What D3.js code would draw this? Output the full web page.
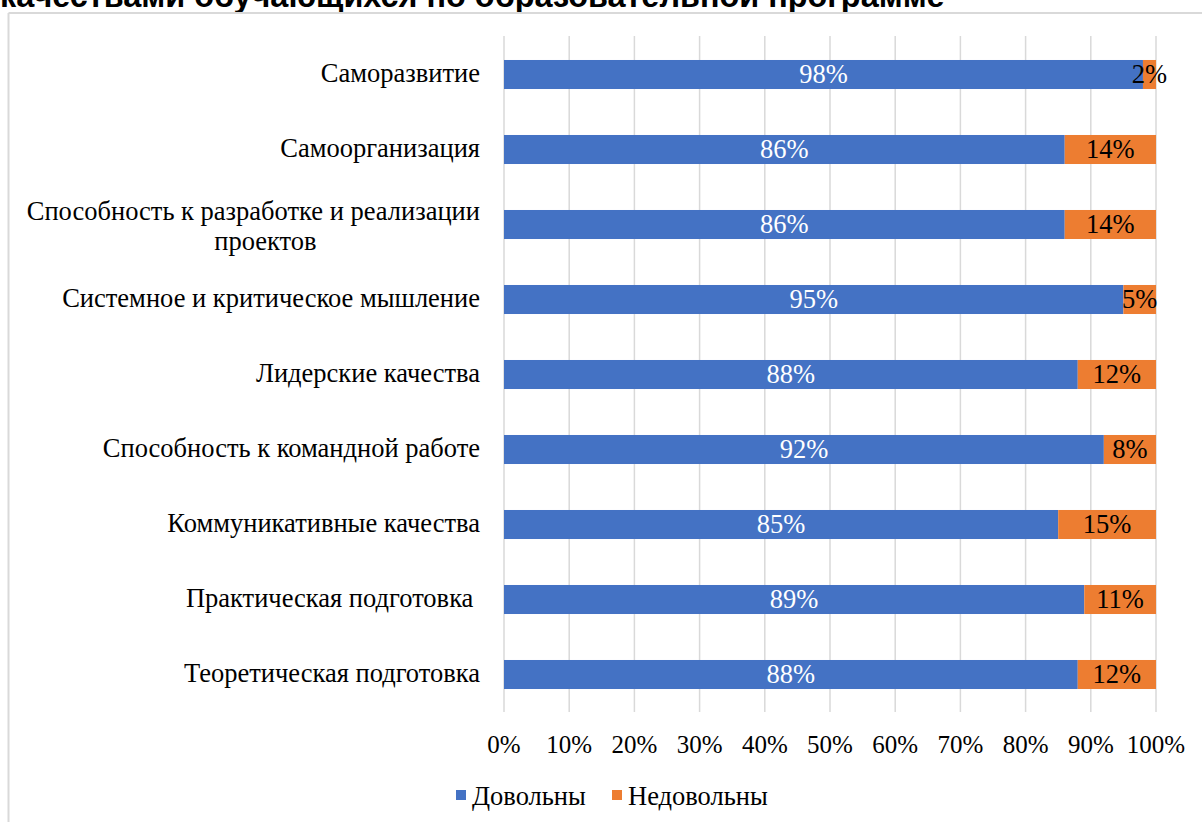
<!DOCTYPE html>
<html>
<head>
<meta charset="utf-8">
<script src="https://cdn.jsdelivr.net/npm/d3@7"></script>
</head>
<body style="margin:0;background:#fff">
<script>
// data
let categories = [
  "Саморазвитие",
  "Самоорганизация",
  "Способность к разработке и реализации|проектов",
  "Системное и критическое мышление",
  "Лидерские качества",
  "Способность к командной работе",
  "Коммуникативные качества",
  "Практическая подготовка ",
  "Теоретическая подготовка"
]
let satisfied   = [98, 86, 86, 95, 88, 92, 85, 89, 88]
let unsatisfied = [2, 14, 14, 5, 12, 8, 15, 11, 12]
let seriesNames = ["Довольны", "Недовольны"]
let tickValues = [0, 10, 20, 30, 40, 50, 60, 70, 80, 90, 100]
let titleText = "качествами обучающихся по образовательной программе"

let width = 1202
let height = 822
let colors = ["#4472C4", "#ED7D31"]
let fs = 26.5
let serif = "'Liberation Serif', 'Times New Roman', monospace"

let svg = d3.select("body")
  .append("svg")
  .attr("width", width)
  .attr("height", height)
  .style("display", "block")
  .style("font-family", serif)

// title, cut off at the top like in the source
let title = svg.append("text")
  .attr("x", 0)
  .attr("y", 7)
  .style("font-family", "'Liberation Sans', Arial, sans-serif")
  .attr("font-weight", "bold")
  .attr("font-size", 24)
  .attr("fill", "#000")
  .text(titleText)
let tw = title.node().getComputedTextLength()
title.attr("font-size", 24 * 945 / tw)

// chart frame (only left and top edges are visible)
svg.append("line")
  .attr("x1", 8.5).attr("x2", 8.5).attr("y1", 13).attr("y2", height)
  .attr("stroke", "#d9d9d9").attr("stroke-width", 2)
svg.append("line")
  .attr("x1", 8.5).attr("x2", width).attr("y1", 13).attr("y2", 13)
  .attr("stroke", "#d9d9d9").attr("stroke-width", 2)

let x = d3.scaleLinear()
  .domain([0, 100])
  .range([504, 1156])

let y = d3.scaleBand()
  .domain(categories)
  .range([37, 712])
  .paddingInner(0.613)
  .paddingOuter(0.3065)

// gridlines
svg.append("g")
  .selectAll("line")
  .data(tickValues)
  .join("line")
  .attr("x1", d => x(d))
  .attr("x2", d => x(d))
  .attr("y1", 36)
  .attr("y2", 712)
  .attr("stroke", "#d9d9d9")
  .attr("stroke-width", 1.5)

function serifText(sel, size) {
  return sel.style("font-family", serif).attr("font-size", size || fs)
}

// x tick labels
svg.append("g")
  .selectAll("text")
  .data(tickValues)
  .join("text")
  .call(serifText, 25)
  .attr("x", d => x(d))
  .attr("y", 753)
  .attr("text-anchor", "middle")
  .attr("fill", "#000")
  .text(d => d + "%")

// stacked series
let rows = categories.map((c, i) => ({cat: c, a: satisfied[i], b: unsatisfied[i]}))

let bars = svg.append("g")
bars.selectAll("rect.sat")
  .data(rows)
  .join("rect")
  .attr("class", "sat")
  .attr("x", x(0))
  .attr("y", d => y(d.cat))
  .attr("width", d => x(d.a) - x(0))
  .attr("height", y.bandwidth())
  .attr("fill", colors[0])

bars.selectAll("rect.uns")
  .data(rows)
  .join("rect")
  .attr("class", "uns")
  .attr("x", d => x(d.a))
  .attr("y", d => y(d.cat))
  .attr("width", d => x(d.a + d.b) - x(d.a))
  .attr("height", y.bandwidth())
  .attr("fill", colors[1])

// data labels
bars.selectAll("text.lsat")
  .data(rows)
  .join("text")
  .attr("class", "lsat")
  .call(serifText)
  .attr("x", d => (x(0) + x(d.a)) / 2)
  .attr("y", d => y(d.cat) + y.bandwidth() / 2 + 8.5)
  .attr("text-anchor", "middle")
  .attr("fill", "#fff")
  .text(d => d.a + "%")

bars.selectAll("text.luns")
  .data(rows)
  .join("text")
  .attr("class", "luns")
  .call(serifText)
  .attr("x", d => (x(d.a) + x(d.a + d.b)) / 2)
  .attr("y", d => y(d.cat) + y.bandwidth() / 2 + 8.5)
  .attr("text-anchor", "middle")
  .attr("fill", "#000")
  .text(d => d.b + "%")

// category labels
let labels = svg.append("g")

categories.forEach(c => {
  let lines = c.split("|")
  let cy = y(c) + y.bandwidth() / 2
  if (lines.length === 1) {
    labels.append("text")
      .call(serifText)
      .attr("x", 480)
      .attr("y", cy + 7.5)
      .attr("text-anchor", "end")
      .attr("fill", "#000")
      .style("white-space", "pre")
      .text(c)
  } else {
    let t = labels.append("text")
      .call(serifText)
      .attr("text-anchor", "middle")
      .attr("fill", "#000")
    t.append("tspan").attr("x", 0).attr("y", cy - 5).text(lines[0])
    t.append("tspan").attr("x", 0).attr("y", cy + 25).text(lines[1])
    let w = t.node().getBBox().width
    t.selectAll("tspan").attr("x", 480 - w / 2)
    t.select("tspan:last-child").attr("x", 480 - w / 2 + 12)
  }
})

// legend
let legend = svg.append("g")
let lx = [456, 612]
seriesNames.forEach((name, i) => {
  legend.append("rect")
    .attr("x", lx[i])
    .attr("y", 790)
    .attr("width", 10)
    .attr("height", 10)
    .attr("fill", colors[i])
  legend.append("text")
    .call(serifText)
    .attr("x", lx[i] + 16)
    .attr("y", 805)
    .attr("fill", "#000")
    .text(name)
})
</script>
</body>
</html>
